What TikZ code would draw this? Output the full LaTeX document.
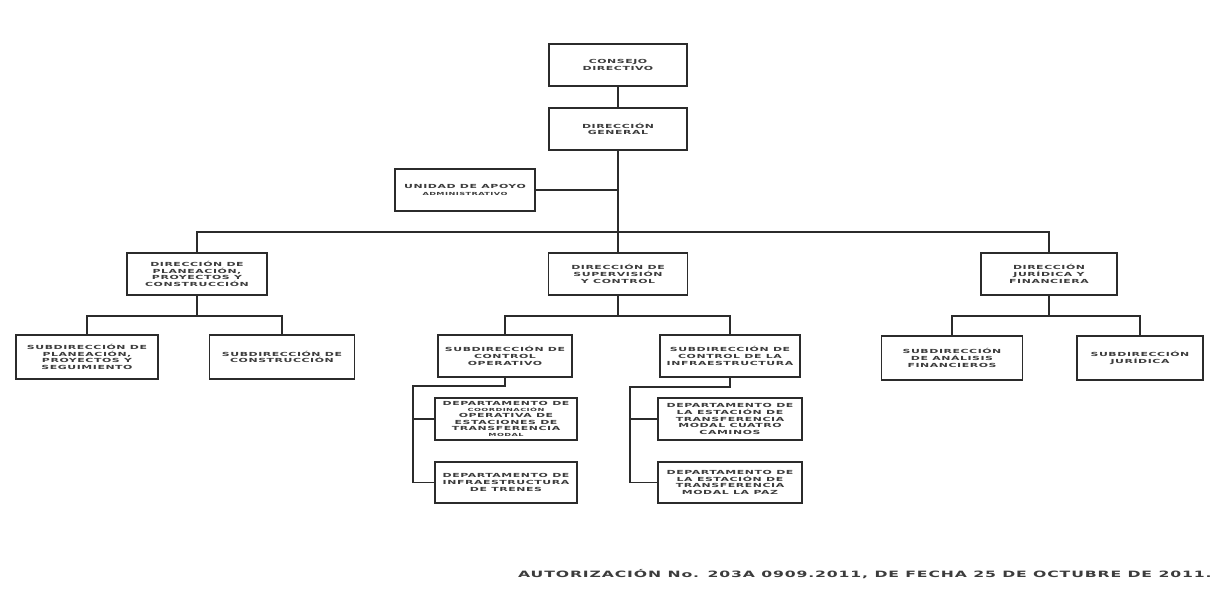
\documentclass[tikz,border=0pt]{standalone}
\usepackage{fontspec}
\newfontfamily\boxfont[FakeStretch=1.95,LetterSpace=10]{DejaVu Sans}
\newfontfamily\footfont[FakeStretch=1.8,LetterSpace=10]{DejaVu Sans}
\definecolor{ink}{HTML}{2B2B2B}
\definecolor{txt}{HTML}{3C3C3C}
\tikzset{
  orgbox/.style={draw=ink, line width=1.7pt, fill=white, inner sep=0pt,
    align=center, text=txt, font=\boxfont\bfseries\fontsize{5.6}{6.8}\selectfont},
  tightbox/.style={orgbox, font=\boxfont\bfseries\fontsize{5.6}{6.2}\selectfont},
  link/.style={draw=ink, line width=1.7pt}
}
\newcommand{\sm}{\fontsize{4.2}{6.2}\selectfont}
\begin{document}
\begin{tikzpicture}[x=1pt,y=-1pt]
\useasboundingbox (0,0) rectangle (1222,592);
\fill[white] (0,0) rectangle (1222,592);

% top of the chart
\node[orgbox, minimum width=138pt, minimum height=42pt] (consejo) at (618,65) {CONSEJO\\DIRECTIVO};
\node[orgbox, minimum width=138pt, minimum height=42pt] (general) at (618,129) {DIRECCIÓN\\GENERAL};
\node[orgbox, minimum width=140pt, minimum height=42pt] (unidad) at (465,190) {UNIDAD DE APOYO\\{\sm ADMINISTRATIVO}};

% directions
\node[orgbox, minimum width=140pt, minimum height=42pt] (dplan) at (197,274) {DIRECCIÓN DE\\PLANEACIÓN,\\PROYECTOS Y\\CONSTRUCCIÓN};
\node[orgbox, minimum width=139pt, minimum height=42pt] (dsup) at (618,274) {DIRECCIÓN DE\\SUPERVISIÓN\\Y CONTROL};
\node[orgbox, minimum width=136pt, minimum height=42pt] (djur) at (1049,274) {DIRECCIÓN\\JURÍDICA Y\\FINANCIERA};

% subdirections
\node[orgbox, minimum width=142pt, minimum height=44pt] (splan) at (87,357) {SUBDIRECCIÓN DE\\PLANEACIÓN,\\PROYECTOS Y\\SEGUIMIENTO};
\node[orgbox, minimum width=145pt, minimum height=44pt] (scons) at (282,357) {SUBDIRECCIÓN DE\\CONSTRUCCIÓN};
\node[orgbox, minimum width=134pt, minimum height=42pt] (sop) at (505,356) {SUBDIRECCIÓN DE\\CONTROL\\OPERATIVO};
\node[orgbox, minimum width=140pt, minimum height=42pt] (sinf) at (730,356) {SUBDIRECCIÓN DE\\CONTROL DE LA\\INFRAESTRUCTURA};
\node[orgbox, minimum width=141pt, minimum height=44pt] (sanal) at (952,358) {SUBDIRECCIÓN\\DE ANÁLISIS\\FINANCIEROS};
\node[orgbox, minimum width=126pt, minimum height=44pt] (sjur) at (1140,358) {SUBDIRECCIÓN\\JURÍDICA};

% departments
\node[tightbox, minimum width=142pt, minimum height=42pt] (dep1) at (506,419) {DEPARTAMENTO DE\\{\sm COORDINACIÓN}\\OPERATIVA DE\\ESTACIONES DE\\TRANSFERENCIA\\{\sm MODAL}};
\node[orgbox, minimum width=142pt, minimum height=41pt] (dep2) at (506,482.5) {DEPARTAMENTO DE\\INFRAESTRUCTURA\\DE TRENES};
\node[orgbox, minimum width=144pt, minimum height=42pt] (dep3) at (730,419) {DEPARTAMENTO DE\\LA ESTACIÓN DE\\TRANSFERENCIA\\MODAL CUATRO\\CAMINOS};
\node[orgbox, minimum width=144pt, minimum height=41pt] (dep4) at (730,482.5) {DEPARTAMENTO DE\\LA ESTACIÓN DE\\TRANSFERENCIA\\MODAL LA PAZ};

% bus and junction points
\coordinate (bus) at (618,232);
\coordinate (sbL) at (197,316);
\coordinate (sbC) at (618,316);
\coordinate (sbR) at (1049,316);
\coordinate (spA) at (413,386);
\coordinate (spB) at (630,387);

% connectors
\draw[link] (consejo) -- (general);
\draw[link] (general.south) -- (dsup.north);
\draw[link] (unidad.east) -- (unidad.east -| general.south);
\draw[link] (dplan.north) |- (bus) -| (djur.north);

\draw[link] (dplan.south) -- (sbL);
\draw[link] (splan.north) |- (sbL) -| (scons.north);
\draw[link] (dsup.south) -- (sbC);
\draw[link] (sop.north) |- (sbC) -| (sinf.north);
\draw[link] (djur.south) -- (sbR);
\draw[link] (sanal.north) |- (sbR) -| (sjur.north);

\draw[link] (sop.south) |- (spA) |- (dep2.west);
\draw[link] (spA |- dep1.west) -- (dep1.west);
\draw[link] (sinf.south) |- (spB) |- (dep4.west);
\draw[link] (spB |- dep3.west) -- (dep3.west);

% authorization line
\node[anchor=west, text=txt, inner sep=0pt, font=\footfont\bfseries\fontsize{8.7}{10}\selectfont] (auth) at (518,574)
  {AUTORIZACIÓN No. 203A 0909.2011, DE FECHA 25 DE OCTUBRE DE 2011.};
\end{tikzpicture}
\end{document}
